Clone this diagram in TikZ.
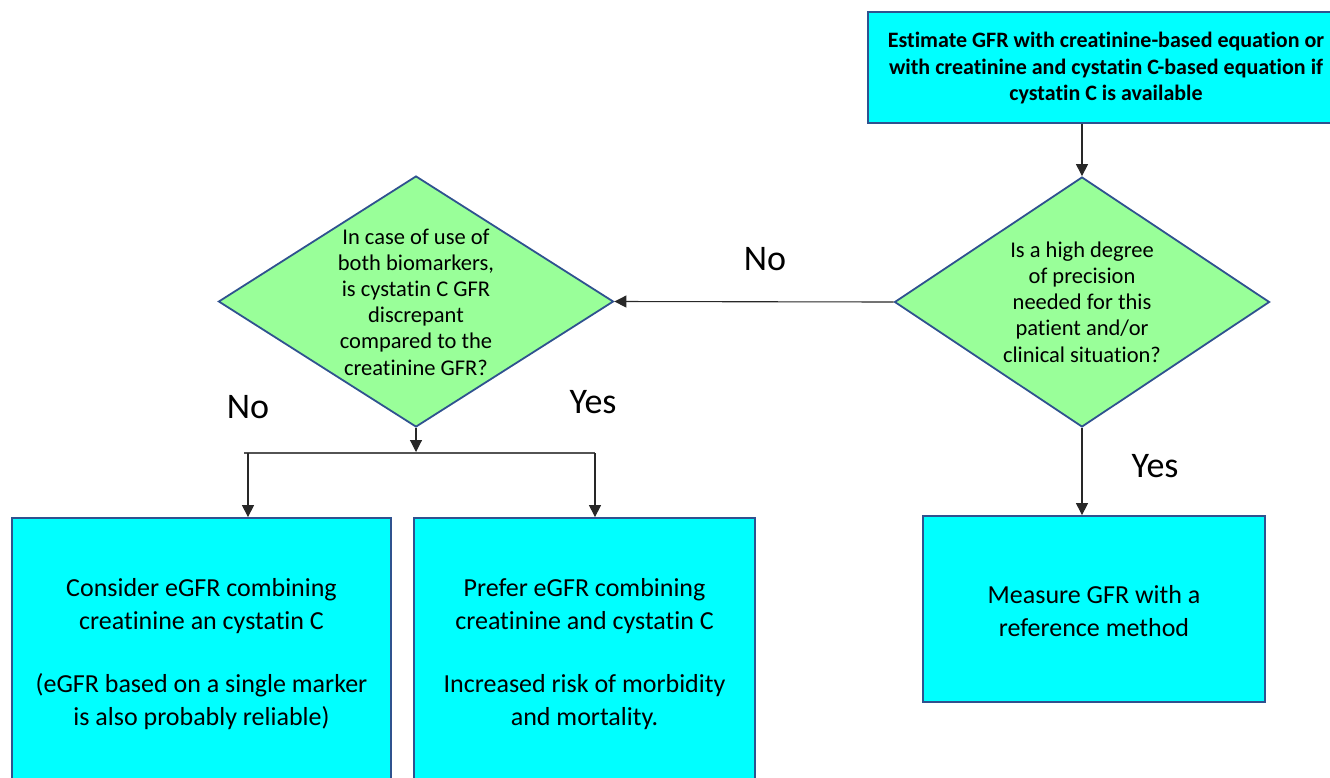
\documentclass[tikz,border=0pt]{standalone}
\usepackage{fontspec}
\setmainfont[Ligatures=NoCommon]{Carlito}
\usetikzlibrary{arrows.meta,shapes.geometric}
\definecolor{boxfill}{RGB}{0,255,255}
\definecolor{dimfill}{RGB}{153,255,153}
\definecolor{edge}{RGB}{47,82,143}
\definecolor{wire}{RGB}{40,40,40}
\tikzset{
  x=1pt, y=-1pt,
  boxnode/.style={draw=edge, fill=boxfill, line width=1.8pt, rectangle, inner sep=0pt},
  dimnode/.style={draw=edge, fill=dimfill, line width=1.8pt, diamond, inner sep=0pt},
  boxtext/.style={align=center, font=\fontsize{26}{33}\selectfont, inner sep=0pt},
  dimtext/.style={align=center, font=\fontsize{22.5}{26.2}\selectfont, inner sep=0pt},
  toptext/.style={align=center, font=\fontsize{22}{26.5}\selectfont\bfseries, inner sep=0pt},
  lbl/.style={font=\fontsize{36}{40}\selectfont, inner sep=0pt},
  arr/.style={draw=wire, line width=1.1pt, -{Triangle[length=12pt,width=12pt]}},
  wireline/.style={draw=wire!80, line width=1.1pt}
}
\begin{document}
\begin{tikzpicture}
\useasboundingbox (0,0) rectangle (1330,777);
\begin{scope}
\clip (0,0) rectangle (1330,777);
% top box
\node[boxnode, minimum width=476pt, minimum height=111pt] (top) at (1106,67.5) {};
\node[toptext] (toptxt) at (1106,68.5) {Estimate GFR with creatinine-based equation or\\with creatinine and cystatin C-based equation if\\cystatin C is available};
% right diamond
\node[dimnode, minimum width=375pt, minimum height=250pt] (rd) at (1082,302) {};
\node[dimtext] (rdtxt) at (1082,302) {Is a high degree\\of precision\\needed for this\\patient and/or\\clinical situation?};
% left diamond
\node[dimnode, minimum width=395pt, minimum height=251pt] (ld) at (416,301.5) {};
\node[dimtext] (ldtxt) at (416,302) {In case of use of\\both biomarkers,\\is cystatin C GFR\\discrepant\\compared to the\\creatinine GFR?};
% right box
\node[boxnode, minimum width=342pt, minimum height=186pt] (rbox) at (1094,609) {};
\node[boxtext] (rboxtxt) at (1094,611) {Measure GFR with a\\reference method};
% left box
\node[boxnode, minimum width=379pt, minimum height=267pt] (lbox) at (201.5,651.5) {};
\node[boxtext] (lboxtxt) at (201.5,654) {Consider eGFR combining\\creatinine an cystatin C\\[30pt](eGFR based on a single marker\\is also probably reliable)};
% middle box
\node[boxnode, minimum width=341pt, minimum height=267pt] (mbox) at (584.5,651.5) {};
\node[boxtext] (mboxtxt) at (584.5,654) {Prefer eGFR combining\\creatinine and cystatin C\\[30pt]Increased risk of morbidity\\and mortality.};
\end{scope}
% connectors
\draw[arr] (rd.north |- top.south) -- (rd.north);
\draw[arr] (rd.west) -- (ld.east);
\draw[arr] (rd.south) -- (rd.south |- rbox.north);
\coordinate (split) at (416,452);
\coordinate (hl) at (244,453);
\coordinate (bl) at (248,453);
\coordinate (br) at (595,453);
\draw[arr] (ld.south) -- (split);
\draw[wireline] (hl) -- (br);
\draw[arr] (bl) -- (bl |- lbox.north);
\draw[arr] (br) -- (br |- mbox.north);
% labels
\node[lbl] (no1) at (765,259) {No};
\node[lbl] (yes1) at (1155,466) {Yes};
\node[lbl] (no2) at (248,407) {No};
\node[lbl] (yes2) at (593,402) {Yes};
\end{tikzpicture}
\end{document}
